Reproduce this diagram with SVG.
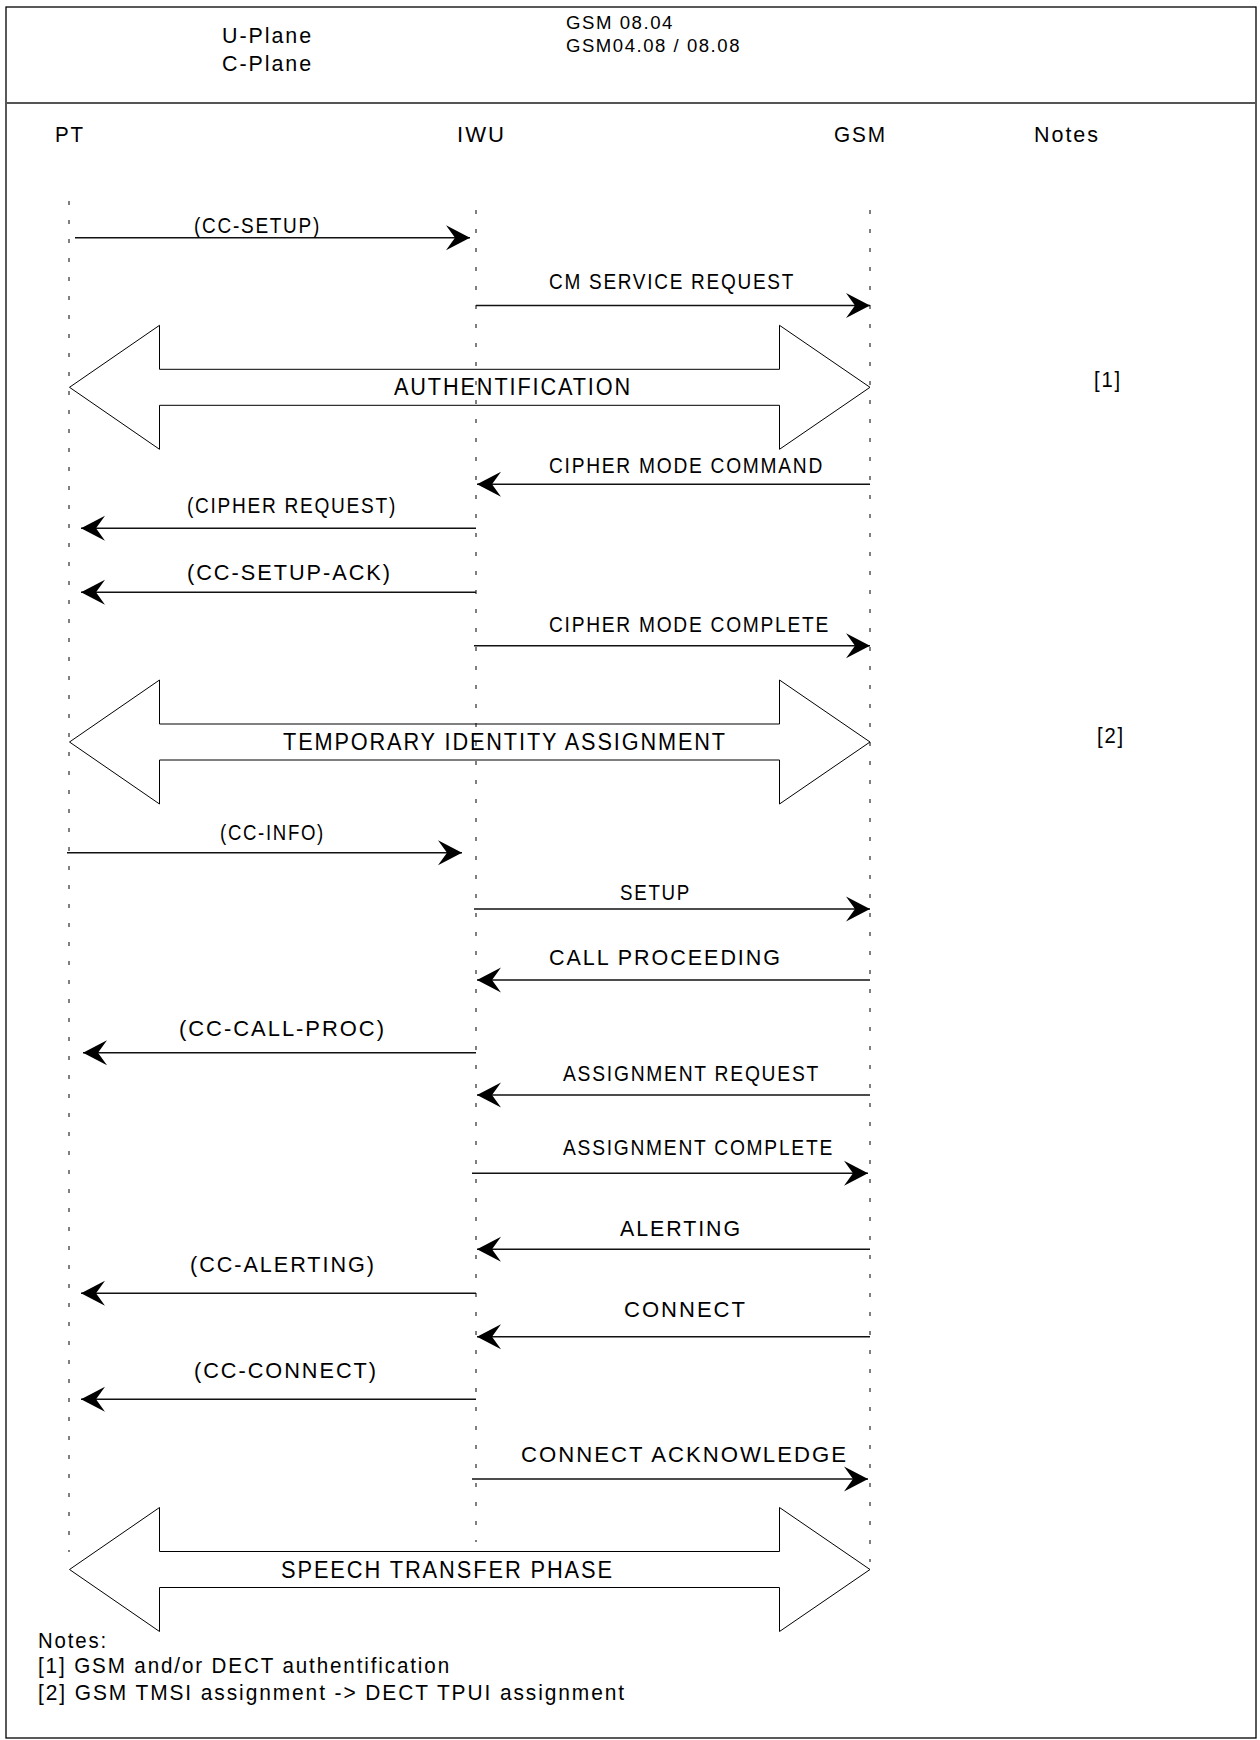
<svg xmlns="http://www.w3.org/2000/svg" width="1260" height="1740" viewBox="0 0 1260 1740">
  <style>
    text { font-family: "Liberation Sans", Arial, sans-serif; font-size: 22px; letter-spacing: 2px; fill: #000; }
    .hdr { font-size: 18px; letter-spacing: 1.5px; }
    .big { font-size: 23px; }
    .frame { fill: none; stroke: #000; stroke-width: 1.3; }
    .sep { stroke: #555; stroke-width: 2; }
    .life { stroke: #000; stroke-width: 1; stroke-dasharray: 4 15; }
    .msg { stroke: #111; stroke-width: 1.4; fill: none; marker-end: url(#head); }
    .phase { fill: none; stroke: #000; stroke-width: 1; }
  </style>
  <defs>
    <marker id="head" markerUnits="userSpaceOnUse" viewBox="-26 -15 28 30" refX="0" refY="0" markerWidth="28" markerHeight="30" orient="auto">
      <path d="M0,0 L-24,-12.5 L-15,0 L-24,12.5 Z" fill="#000"/>
    </marker>
  </defs>

  <!-- page frame and header band -->
  <rect class="frame" x="6" y="7" width="1250" height="1731"/>
  <line class="sep" x1="6" y1="103" x2="1256" y2="103"/>
  <g id="header">
    <text x="222" y="43" textLength="91" lengthAdjust="spacingAndGlyphs">U-Plane</text>
    <text x="222" y="71" textLength="91" lengthAdjust="spacingAndGlyphs">C-Plane</text>
    <text class="hdr" x="566" y="29" textLength="108" lengthAdjust="spacingAndGlyphs">GSM 08.04</text>
    <text class="hdr" x="566" y="52" textLength="175" lengthAdjust="spacingAndGlyphs">GSM04.08 / 08.08</text>
  </g>

  <!-- entities with their lifelines -->
  <g id="PT">
    <text x="55" y="142" textLength="30" lengthAdjust="spacingAndGlyphs">PT</text>
    <line class="life" x1="69" y1="201" x2="69" y2="1552"/>
  </g>
  <g id="IWU">
    <text x="457" y="142" textLength="49" lengthAdjust="spacingAndGlyphs">IWU</text>
    <line class="life" x1="476" y1="210" x2="476" y2="1542"/>
  </g>
  <g id="GSM">
    <text x="834" y="142" textLength="53" lengthAdjust="spacingAndGlyphs">GSM</text>
    <line class="life" x1="870" y1="210" x2="870" y2="1562"/>
  </g>
  <g id="Notes">
    <text x="1034" y="142" textLength="66" lengthAdjust="spacingAndGlyphs">Notes</text>
    <text x="1094" y="387" textLength="28" lengthAdjust="spacingAndGlyphs">[1]</text>
    <text x="1097" y="743" textLength="28" lengthAdjust="spacingAndGlyphs">[2]</text>
  </g>

  <!-- message connectors -->
  <g id="connectors">
    <line class="msg" x1="75" y1="237.7" x2="470" y2="237.7"/>
    <text x="194" y="233" textLength="127" lengthAdjust="spacingAndGlyphs">(CC-SETUP)</text>

    <line class="msg" x1="476" y1="305.5" x2="870" y2="305.5"/>
    <text x="549" y="289" textLength="246" lengthAdjust="spacingAndGlyphs">CM SERVICE REQUEST</text>

    <line class="msg" x1="870" y1="484.3" x2="477" y2="484.3"/>
    <text x="549" y="473" textLength="275" lengthAdjust="spacingAndGlyphs">CIPHER MODE COMMAND</text>

    <line class="msg" x1="476" y1="528.3" x2="81" y2="528.3"/>
    <text x="187" y="513" textLength="210" lengthAdjust="spacingAndGlyphs">(CIPHER REQUEST)</text>

    <line class="msg" x1="476" y1="592.3" x2="81" y2="592.3"/>
    <text x="187" y="580" textLength="205" lengthAdjust="spacingAndGlyphs">(CC-SETUP-ACK)</text>

    <line class="msg" x1="474" y1="645.7" x2="870" y2="645.7"/>
    <text x="549" y="632" textLength="281" lengthAdjust="spacingAndGlyphs">CIPHER MODE COMPLETE</text>

    <line class="msg" x1="67" y1="852.7" x2="462" y2="852.7"/>
    <text x="220" y="840" textLength="105" lengthAdjust="spacingAndGlyphs">(CC-INFO)</text>

    <line class="msg" x1="474" y1="909" x2="870" y2="909"/>
    <text x="620" y="900" textLength="71" lengthAdjust="spacingAndGlyphs">SETUP</text>

    <line class="msg" x1="870" y1="980" x2="477" y2="980"/>
    <text x="549" y="965" textLength="233" lengthAdjust="spacingAndGlyphs">CALL PROCEEDING</text>

    <line class="msg" x1="476" y1="1052.7" x2="83" y2="1052.7"/>
    <text x="179" y="1036" textLength="207" lengthAdjust="spacingAndGlyphs">(CC-CALL-PROC)</text>

    <line class="msg" x1="870" y1="1095" x2="477" y2="1095"/>
    <text x="563" y="1081" textLength="257" lengthAdjust="spacingAndGlyphs">ASSIGNMENT REQUEST</text>

    <line class="msg" x1="472" y1="1173.3" x2="868" y2="1173.3"/>
    <text x="563" y="1155" textLength="271" lengthAdjust="spacingAndGlyphs">ASSIGNMENT COMPLETE</text>

    <line class="msg" x1="870" y1="1249.3" x2="477" y2="1249.3"/>
    <text x="620" y="1236" textLength="122" lengthAdjust="spacingAndGlyphs">ALERTING</text>

    <line class="msg" x1="476" y1="1293.3" x2="81" y2="1293.3"/>
    <text x="190" y="1272" textLength="186" lengthAdjust="spacingAndGlyphs">(CC-ALERTING)</text>

    <line class="msg" x1="870" y1="1336.7" x2="477" y2="1336.7"/>
    <text x="624" y="1317" textLength="123" lengthAdjust="spacingAndGlyphs">CONNECT</text>

    <line class="msg" x1="476" y1="1399.3" x2="81" y2="1399.3"/>
    <text x="194" y="1378" textLength="184" lengthAdjust="spacingAndGlyphs">(CC-CONNECT)</text>

    <line class="msg" x1="472" y1="1479" x2="868" y2="1479"/>
    <text x="521" y="1462" textLength="327" lengthAdjust="spacingAndGlyphs">CONNECT ACKNOWLEDGE</text>
  </g>

  <!-- two-way phase arrows -->
  <g id="phases">
    <g id="authentification">
      <path class="phase" d="M69.5,387.3 L159.5,325.3 L159.5,369.3 L779.5,369.3 L779.5,325.3 L870,387.3 L779.5,449.3 L779.5,405.3 L159.5,405.3 L159.5,449.3 Z"/>
      <text class="big" x="394" y="395" textLength="238" lengthAdjust="spacingAndGlyphs">AUTHENTIFICATION</text>
    </g>
    <g id="temporary-identity">
      <path class="phase" d="M69.5,742 L159.5,680 L159.5,724 L779.5,724 L779.5,680 L870,742 L779.5,804 L779.5,760 L159.5,760 L159.5,804 Z"/>
      <text class="big" x="283" y="750" textLength="444" lengthAdjust="spacingAndGlyphs">TEMPORARY IDENTITY ASSIGNMENT</text>
    </g>
    <g id="speech-transfer">
      <path class="phase" d="M69.5,1569.5 L159.5,1507.5 L159.5,1551.5 L779.5,1551.5 L779.5,1507.5 L870,1569.5 L779.5,1631.5 L779.5,1587.5 L159.5,1587.5 L159.5,1631.5 Z"/>
      <text class="big" x="281" y="1578" textLength="333" lengthAdjust="spacingAndGlyphs">SPEECH TRANSFER PHASE</text>
    </g>
  </g>

  <!-- footnotes -->
  <g id="footnotes">
    <text x="38" y="1648" textLength="70" lengthAdjust="spacingAndGlyphs">Notes:</text>
    <text x="38" y="1673" textLength="413" lengthAdjust="spacingAndGlyphs">[1] GSM and/or DECT authentification</text>
    <text x="38" y="1700" textLength="588" lengthAdjust="spacingAndGlyphs">[2] GSM TMSI assignment -&gt; DECT TPUI assignment</text>
  </g>
</svg>
